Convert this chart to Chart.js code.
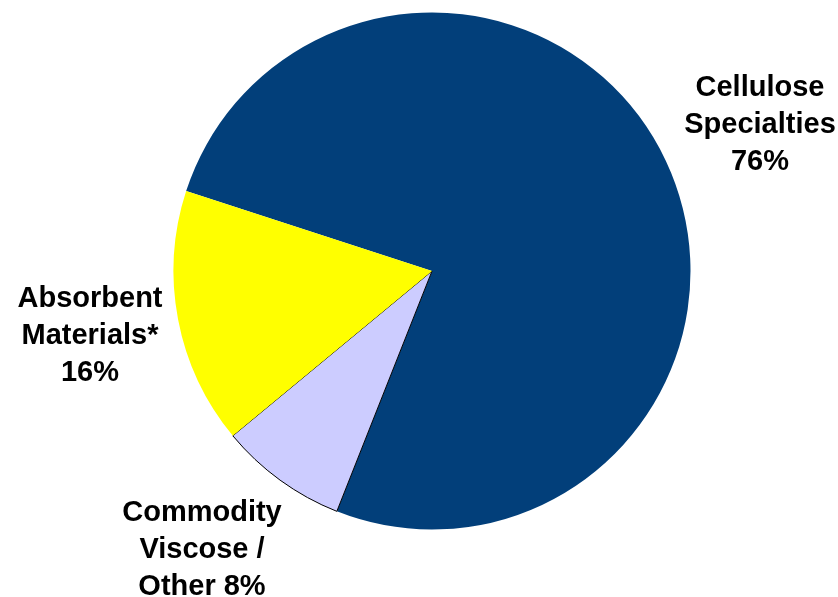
<!DOCTYPE html>
<html>
<head>
<meta charset="utf-8">
<script src="https://cdn.jsdelivr.net/npm/chart.js@4/dist/chart.umd.min.js"></script>
<style>
  html, body { margin: 0; padding: 0; background: #fff; }
  #wrap { width: 838px; height: 597px; }
</style>
</head>
<body>
<div id="wrap"><canvas id="pieChart" width="838" height="597"></canvas></div>
<script>
// Revenue mix by segment (%)
const segments = ['Cellulose Specialties', 'Commodity Viscose / Other', 'Absorbent Materials*'];
const shares = [76, 8, 16];
const sliceColors = ['#023F7A', '#CCCCFF', '#FFFF00'];

// Label text, one entry per line, and where each block sits
const labelLines = [
  ['Cellulose', 'Specialties', '76%'],
  ['Commodity', 'Viscose /', 'Other 8%'],
  ['Absorbent', 'Materials*', '16%']
];
const labelSpots = [
  { x: 760, y: 88 },
  { x: 202, y: 513 },
  { x: 90, y: 299 }
];

const outsideLabels = {
  id: 'outsideLabels',
  afterDraw(chart) {
    const ctx = chart.ctx;
    ctx.save();
    ctx.fillStyle = '#000';
    ctx.font = 'bold 29px "Liberation Sans", Arial, sans-serif';
    ctx.textAlign = 'center';
    ctx.textBaseline = 'middle';
    labelLines.forEach(function (lines, i) {
      const spot = labelSpots[i];
      lines.forEach(function (line, j) {
        ctx.fillText(line, spot.x, spot.y + j * 37);
      });
    });
    ctx.restore();
  }
};

new Chart(document.getElementById('pieChart').getContext('2d'), {
  type: 'pie',
  data: {
    labels: segments,
    datasets: [{
      data: shares,
      backgroundColor: sliceColors,
      borderColor: ['#023F7A', '#000000', '#FFFF00'],
      borderWidth: [0, 1, 0]
    }]
  },
  options: {
    responsive: false,
    animation: false,
    rotation: 288,
    layout: { padding: { left: 173, right: 147, top: 12, bottom: 67 } },
    plugins: {
      legend: { display: false },
      tooltip: { enabled: false }
    }
  },
  plugins: [outsideLabels]
});
</script>
</body>
</html>
